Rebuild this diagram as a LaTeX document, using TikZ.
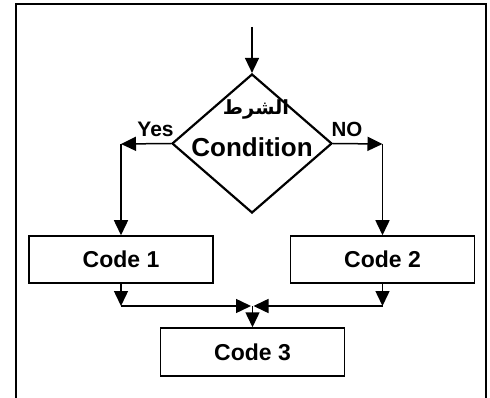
\documentclass[tikz,border=0pt]{standalone}
\usepackage{fontspec}
\setmainfont{Liberation Sans}
\newfontfamily\arabicfont[Script=Arabic]{DejaVu Sans}
\TeXXeTstate=1
\usetikzlibrary{shapes.geometric,arrows.meta}
\begin{document}
\begin{tikzpicture}[x=1pt,y=-1pt,
  arr/.style={line width=1.5pt,-{Triangle[length=15pt,width=14pt]}},
  codebox/.style={draw,line width=1.5pt,minimum width=184pt,minimum height=47pt,inner sep=0pt,font=\bfseries\fontsize{23}{26}\selectfont},
  lbl/.style={font=\bfseries\fontsize{21}{24}\selectfont,inner sep=0pt}]
\useasboundingbox (0,0) rectangle (490,398);
\draw[line width=2pt] (15.5,398) -- (15.5,4) -- (485.5,4) -- (485.5,398);
\node[draw,diamond,line width=2.2pt,minimum width=160pt,minimum height=139pt,inner sep=0pt] (cond) at (252,143.5) {};
\node[inner sep=0pt,text height=14pt,text depth=4pt] (ar) at (256,110) {\arabicfont\bfseries\fontsize{19.5}{22}\selectfont\beginR الشرط\endR};
\node[inner sep=0pt,text height=19pt,text depth=0pt,font=\bfseries\fontsize{26}{30}\selectfont] (ct) at (252,147) {Condition};
\node[lbl] (yes) at (155.5,129) {Yes};
\node[lbl,font=\bfseries\fontsize{20.5}{24}\selectfont] (no) at (347,129) {NO};
\coordinate (start) at (252,27);
\coordinate (yl) at (121,144);
\coordinate (nr) at (382.5,144);
\node[codebox] (c1) at (121,259.5) {Code 1};
\node[codebox] (c2) at (382.5,259.5) {Code 2};
\node[codebox,minimum height=48pt] (c3) at (252.5,352) {Code 3};
\coordinate (m1) at (121,306);
\coordinate (m2) at (382.5,306);
\coordinate (ml) at (251,306);
\coordinate (mr) at (253.5,306);
\coordinate (md) at (252.5,306);
\draw[arr] (start) -- (cond.north);
\draw[arr] (cond.west) -- (yl);
\draw[arr] (yl) -- (c1.north);
\draw[arr] (cond.east) -- (nr);
\draw[arr] (nr) -- (c2.north);
\draw[arr] (c1.south) -- (m1);
\draw[arr] (c2.south) -- (m2);
\draw[arr] (m1) -- (ml);
\draw[arr] (m2) -- (mr);
\draw[arr] (md) -- (c3.north);
\end{tikzpicture}
\end{document}
